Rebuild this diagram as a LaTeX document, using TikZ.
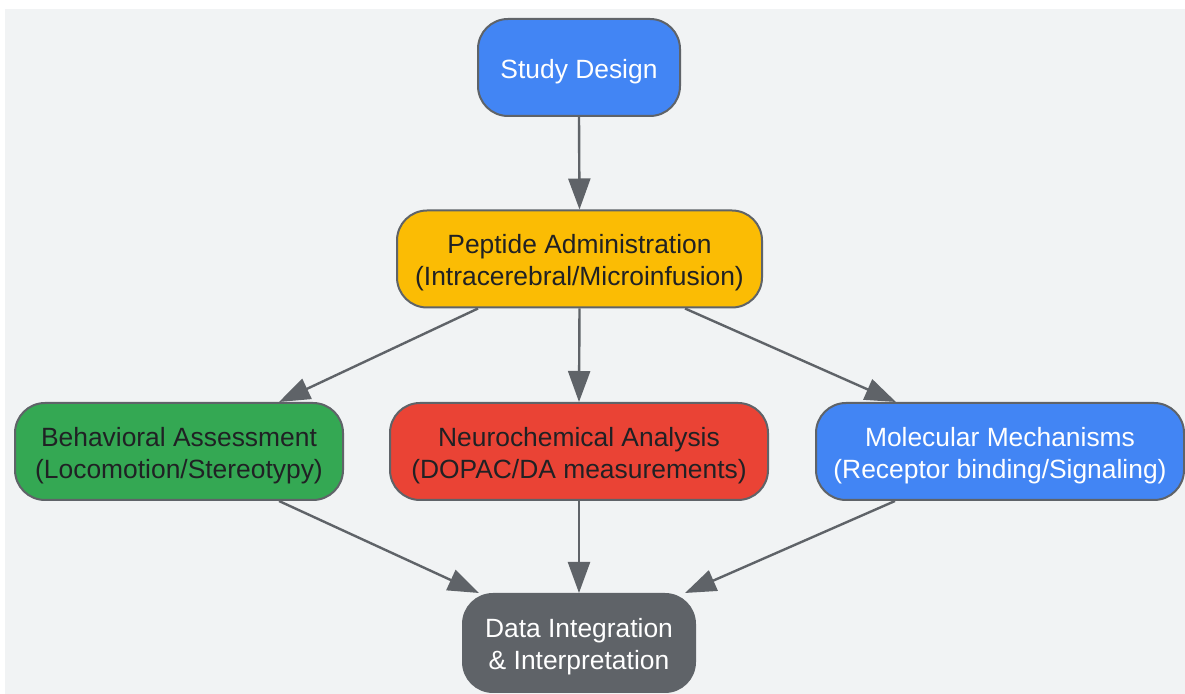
\documentclass[tikz,border=0pt]{standalone}
\usepackage{fontspec}
\setmainfont{Liberation Sans}
\usetikzlibrary{arrows.meta,calc}
\definecolor{bgc}{HTML}{F1F3F4}
\definecolor{gblue}{HTML}{4285F4}
\definecolor{gyellow}{HTML}{FBBC04}
\definecolor{ggreen}{HTML}{34A853}
\definecolor{gred}{HTML}{EA4335}
\definecolor{ggray}{HTML}{5F6368}
\definecolor{gdark}{HTML}{202124}
\newcommand{\tup}{\rule{0pt}{13.5pt}}
\tikzset{
  box/.style={draw=ggray, line width=1pt, rounded corners=15pt, align=center,
    minimum height=48.5pt, inner sep=2pt,
    font=\fontsize{13.2pt}{16pt}\selectfont},
  lighttext/.style={text=white},
  darktext/.style={text=gdark},
  conn/.style={draw=ggray, line width=1.2pt, -{Triangle[length=15.5pt,width=11pt]}}
}
\begin{document}
\begin{tikzpicture}[x=0.5pt,y=-0.5pt]
\useasboundingbox (0,0) rectangle (1185,694);
\fill[bgc] (5,9) rectangle (1185,694);
\node[box, lighttext, fill=gblue, minimum width=101pt] (sd) at (579,67.5) {\tup Study Design};
\node[box, darktext, fill=gyellow, minimum width=182.5pt] (pep) at (579.5,259) {\tup Peptide Administration\\(Intracerebral/Microinfusion)};
\node[box, darktext, fill=ggreen, minimum width=164pt] (beh) at (179,451.5) {\tup Behavioral Assessment\\(Locomotion/Stereotypy)};
\node[box, darktext, fill=gred, minimum width=189pt] (neu) at (579,451.5) {\tup Neurochemical Analysis\\(DOPAC/DA measurements)};
\node[box, lighttext, fill=gblue, minimum width=184pt] (mol) at (1000,451.5) {\tup Molecular Mechanisms\\(Receptor binding/Signaling)};
\node[box, lighttext, fill=ggray, minimum width=116pt, minimum height=49pt] (dat) at (579,643) {\tup Data Integration\\\& Interpretation};
\draw[conn] (sd.south) -- (pep.north);
\draw[conn] ($(pep.south)+(-101.5,0)$) -- ($(beh.north)+(100,0)$);
\draw[conn] (pep.south) -- (neu.north);
\draw[conn] ($(pep.south)+(105.5,0)$) -- ($(mol.north)+(-104,0)$);
\draw[conn] ($(beh.south)+(100,0)$) -- ($(dat.north)+(-100,0)$);
\draw[conn] (neu.south) -- (dat.north);
\draw[conn] ($(mol.south)+(-105,0)$) -- ($(dat.north)+(106,0)$);
\end{tikzpicture}
\end{document}
